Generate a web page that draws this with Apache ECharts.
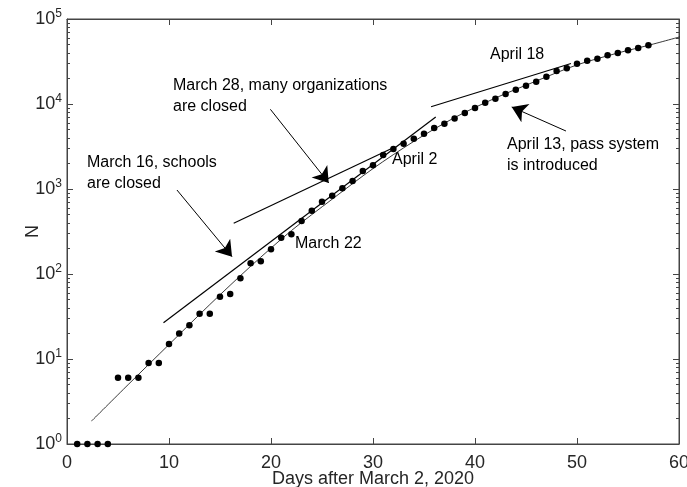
<!DOCTYPE html>
<html>
<head>
<meta charset="utf-8">
<script src="https://cdn.jsdelivr.net/npm/echarts@6/dist/echarts.min.js"></script>
<style>
html,body{margin:0;padding:0;background:#fff;}
#chart{width:687px;height:487px;}
</style>
</head>
<body>
<div id="chart"></div>
<script>
// ---- data ----
const days = [1,2,3,4,5,6,7,8,9,10,11,12,13,14,15,16,17,18,19,20,21,22,23,24,25,26,27,28,29,30,
              31,32,33,34,35,36,37,38,39,40,41,42,43,44,45,46,47,48,49,50,51,52,53,54,55,56,57];
const cases = [1,1,1,1,6,6,6,9,9,15,20,25,34,34,54,58,89,134,141,195,267,293,421,556,708,834,1018,1242,1623,1897,
               2511,2955,3413,3896,4470,5222,5863,6770,7830,8970,10360,11540,13100,14700,16400,18300,20900,24400,26300,29800,
               32300,34100,37400,39800,42800,45600,49000];
// fitted curve
const fitDays = [2.4,6,10,14,18,22,26,30,34,38,42,46,50,54,57,60.7];
const fitN = [1.86,5.0,14.8,43.7,123,324,759,1738,3631,6918,11750,18620,28840,39810,48980,64570];
// tangent lines [day, N]
const tangentMar16 = [[9.46,26.7],[36.15,7030]];
const tangentMar28 = [[16.34,395],[31.93,3036]];
const tangentApr18 = [[35.69,9290],[49.41,29950]];
// annotation arrows [start, tip]
const arrowMar16 = [[10.78,973],[16.18,160]];
const arrowMar28 = [[19.94,8660],[25.66,1178]];
const arrowApr13 = [[48.92,4810],[43.6,9220]];
// axis ticks
const yMajor = [1,10,100,1000,10000,100000];

const FONT = "'Liberation Sans', Arial, Helvetica, sans-serif";
const AX = '#444';

const chart = echarts.init(document.getElementById('chart'), null, {renderer: 'canvas'});

function yAxisDef(pos, showLabel) {
  return {
    type: 'log', logBase: 10, min: 1, max: 100000, position: pos,
    axisLine: {show: true, onZero: false, lineStyle: {color: AX, width: 1}},
    axisTick: {show: true, inside: true, length: 6, lineStyle: {color: AX}},
    minorTick: {show: true, splitNumber: 9, length: 3, lineStyle: {color: AX}},
    splitLine: {show: false}, minorSplitLine: {show: false},
    axisLabel: showLabel ? {
      show: true, customValues: yMajor, margin: 5, color: '#262626', fontFamily: FONT,
      formatter: v => '{b|10}{s|' + Math.round(Math.log10(v)) + '}',
      rich: {
        b: {fontSize: 18, fontFamily: FONT, color: '#262626', lineHeight: 22},
        s: {fontSize: 12, fontFamily: FONT, color: '#262626', verticalAlign: 'top', lineHeight: 12}
      }
    } : {show: false}
  };
}

function xAxisDef(pos, showLabel) {
  return {
    type: 'value', min: 0, max: 60, interval: 10, position: pos,
    axisLine: {show: true, onZero: false, lineStyle: {color: AX, width: 1}},
    axisTick: {show: true, inside: true, length: 6, lineStyle: {color: AX}},
    splitLine: {show: false},
    axisLabel: {show: showLabel, margin: 10, fontSize: 18, color: '#262626', fontFamily: FONT},
    name: showLabel ? 'Days after March 2, 2020' : '',
    nameLocation: 'middle', nameGap: 26, nameMoveOverlap: false,
    nameTextStyle: {fontSize: 18, color: '#262626', fontFamily: FONT}
  };
}

const yAxes = [yAxisDef('left', true), yAxisDef('right', false)];
yAxes[0].name = 'N';
yAxes[0].nameLocation = 'middle';
yAxes[0].nameGap = 25;
yAxes[0].nameMoveOverlap = false;
yAxes[0].nameTextStyle = {fontSize: 18, color: '#262626', fontFamily: FONT};

function arrowSeries(seg) {
  return {
    type: 'lines', coordinateSystem: 'cartesian2d', xAxisIndex: 0, yAxisIndex: 0,
    symbol: ['none', 'arrow'], symbolSize: [11, 15],
    lineStyle: {color: '#000', width: 1, opacity: 1},
    data: [{coords: seg}], silent: true, z: 5
  };
}
function tangentSeries(seg) {
  return {
    type: 'line', xAxisIndex: 0, yAxisIndex: 0, data: seg, showSymbol: false, symbol: 'none',
    lineStyle: {color: '#000', width: 1.2}, clip: false, silent: true, z: 3
  };
}

const txt = (x, y, s) => ({type: 'text', left: x, top: y - 8, style: {text: s, font: '16px ' + FONT, fill: '#000'}});

chart.setOption({
  animation: false,
  backgroundColor: '#fff',
  grid: {left: 67, right: 8, top: 19, bottom: 43, containLabel: false, outerBoundsMode: 'none',
         show: true, borderColor: AX, borderWidth: 1, backgroundColor: 'transparent'},
  xAxis: [xAxisDef('bottom', true), xAxisDef('top', false)],
  yAxis: yAxes,
  series: [
    {
      type: 'line', xAxisIndex: 0, yAxisIndex: 0,
      data: fitDays.map((d, i) => [d, fitN[i]]),
      showSymbol: false, symbol: 'none', smooth: 0.3,
      lineStyle: {color: '#222', width: 0.9}, clip: false, silent: true, z: 2
    },
    tangentSeries(tangentMar16),
    tangentSeries(tangentMar28),
    tangentSeries(tangentApr18),
    {
      type: 'scatter', xAxisIndex: 0, yAxisIndex: 0,
      data: days.map((d, i) => [d, cases[i]]),
      symbol: 'circle', symbolSize: 6.5, itemStyle: {color: '#000', opacity: 1}, clip: false, z: 4
    },
    arrowSeries(arrowMar16),
    arrowSeries(arrowMar28),
    arrowSeries(arrowApr13)
  ],
  graphic: [
    txt(173, 86, 'March 28, many organizations'),
    txt(173, 107, 'are closed'),
    txt(87, 163, 'March 16, schools'),
    txt(87, 184, 'are closed'),
    txt(295, 244, 'March 22'),
    txt(392, 160, 'April 2'),
    txt(490, 55, 'April 18'),
    txt(507, 145, 'April 13, pass system'),
    txt(507, 166, 'is introduced')
  ]
});
</script>
</body>
</html>
